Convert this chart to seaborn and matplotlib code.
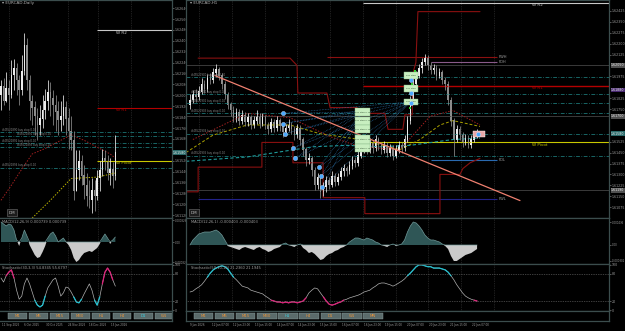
import numpy as np
import matplotlib
matplotlib.use("Agg")
import matplotlib.pyplot as plt
from matplotlib.patches import Rectangle
from matplotlib.ticker import FixedLocator, FormatStrFormatter
from matplotlib.transforms import blended_transform_factory
import seaborn as sns

sns.set_theme(style="dark", rc={
    "figure.facecolor": "black", "axes.facecolor": "black",
    "axes.edgecolor": "#3b4d4d", "text.color": "#a8a8a8",
    "xtick.color": "#9c9c9c", "ytick.color": "#9c9c9c", "axes.grid": False,
})
plt.rcParams["font.family"] = ["DejaVu Sans"]

# ======================= DATA =======================
# ---- left chart: EURCAD Daily ----
d_open0 = 1.6200
d_close = [1.6207, 1.6196, 1.6205, 1.6200, 1.6215, 1.6220, 1.6211, 1.6204, 1.6218, 1.6237,
           1.6211, 1.6196, 1.6191, 1.6185, 1.6178, 1.6183, 1.6189, 1.6196, 1.6202, 1.6198,
           1.6193, 1.6188, 1.6182, 1.6185, 1.6191, 1.6183, 1.6174, 1.6167, 1.6130, 1.6145,
           1.6152, 1.6141, 1.6134, 1.6126, 1.6123, 1.6130, 1.6126, 1.6139, 1.6145, 1.6154,
           1.6152, 1.6143, 1.6146, 1.6141, 1.6158]
d_high = [1.6211, 1.6213, 1.6217, 1.6211, 1.6226, 1.6227, 1.6224, 1.6215, 1.6230, 1.6246,
          1.6242, 1.6215, 1.6200, 1.6196, 1.6191, 1.6193, 1.6200, 1.6205, 1.6211, 1.6210,
          1.6204, 1.6200, 1.6196, 1.6196, 1.6200, 1.6196, 1.6191, 1.6185, 1.6174, 1.6160,
          1.6160, 1.6156, 1.6149, 1.6143, 1.6138, 1.6139, 1.6138, 1.6145, 1.6152, 1.6161,
          1.6160, 1.6156, 1.6154, 1.6151, 1.6171]
d_low = [1.6189, 1.6193, 1.6195, 1.6189, 1.6198, 1.6204, 1.6200, 1.6193, 1.6200, 1.6215,
         1.6204, 1.6182, 1.6178, 1.6171, 1.6167, 1.6171, 1.6176, 1.6183, 1.6189, 1.6185,
         1.6178, 1.6174, 1.6171, 1.6174, 1.6178, 1.6171, 1.6161, 1.6160, 1.6123, 1.6134,
         1.6138, 1.6134, 1.6124, 1.6119, 1.6117, 1.6114, 1.6115, 1.6123, 1.6130, 1.6141,
         1.6145, 1.6138, 1.6134, 1.6132, 1.6138]
d_macd = [0.00040, 0.00036, 0.00032, 0.00036, 0.00034, 0.00024, 0.00004, -0.00008, 0.00008, 0.00024,
          0.00012, -0.00006, -0.00016, -0.00026, -0.00032, -0.00030, -0.00020, -0.00008, 0.00008, 0.00016,
          0.00020, 0.00012, 0.0, 0.00004, 0.00008, 0.0, -0.00006, -0.00016, -0.00032, -0.00040,
          -0.00036, -0.00028, -0.00022, -0.00020, -0.00018, -0.00020, -0.00016, -0.00012, -0.00004, 0.00008,
          0.00016, 0.00008, -0.00004, 0.00004, 0.00010]
d_stoch = [71, 62, 76, 84, 89, 71, 44, 24, 31, 58,
           71, 58, 40, 22, 11, 7, 11, 31, 49, 58,
           67, 71, 53, 31, 38, 51, 49, 40, 29, 18,
           16, 24, 36, 47, 58, 44, 22, 11, 29, 58,
           84, 93, 84, 67, 53]
d_ma_red_idx = [0, 4, 7, 12, 17, 23, 27, 32, 37, 42, 44]
d_ma_red = [1.6123, 1.6134, 1.6143, 1.6157, 1.6161, 1.6167, 1.6171, 1.6167, 1.6162, 1.6157, 1.6154]
d_ma_yel_idx = [12, 19, 27, 37, 44]
d_ma_yel = [1.6110, 1.6123, 1.6139, 1.6140, 1.6143]
d_orders = [1.6173, 1.6170, 1.6165, 1.6162, 1.6147]
d_price_ticks = [1.6112, 1.6120, 1.6128, 1.6136, 1.6144, 1.6152, 1.6160, 1.6168, 1.6176, 1.6184,
                 1.6192, 1.6200, 1.6208, 1.6216, 1.6224, 1.6232, 1.6240, 1.6248, 1.6256, 1.6264]
d_grid = [3.1, 25.8, 37.3, 50.0]
d_xtick_pos = [0.4, 8.8, 17.2, 25.6, 34.0, 42.4]
d_xlabels = ["11 Sep 2025", "6 Oct 2025", "30 Oct 2025", "24 Nov 2025", "18 Dec 2025", "15 Jan 2026"]
d_wstart = 36.9

# weekly pivot levels (shared)
w_names = ["W R2", "W R1", "W Pivot"]
w_prices = [1.6248, 1.6191, 1.6152]
w_colors = ["#c8c8c8", "#b40000", "#c8c800"]

# ---- right chart: EURCAD H1 ----
h_open0 = 1.6178
h_close = [1.6181, 1.6185, 1.6183, 1.6187,
           1.6192, 1.6189, 1.6196, 1.6195, 1.6200, 1.6202,
           1.6198, 1.6192, 1.6185,
           1.6178, 1.6174, 1.6169, 1.6173, 1.6167,
           1.6171, 1.6166, 1.6169, 1.6164, 1.6167, 1.6170, 1.6165,
           1.6169, 1.6164, 1.6161, 1.6166, 1.6162, 1.6167, 1.6163, 1.6159, 1.6162,
           1.6164, 1.6161, 1.6157, 1.6162, 1.6154,
           1.6147, 1.6140, 1.6141, 1.6133, 1.6123, 1.6128, 1.6118,
           1.6121, 1.6126, 1.6123, 1.6129, 1.6125, 1.6128, 1.6132,
           1.6134, 1.6132, 1.6136, 1.6140, 1.6138, 1.6143, 1.6147,
           1.6150, 1.6147, 1.6152, 1.6148, 1.6154, 1.6150,
           1.6147, 1.6150, 1.6145, 1.6148, 1.6143, 1.6147, 1.6150,
           1.6148, 1.6154, 1.6167, 1.6181,
           1.6192, 1.6198, 1.6203, 1.6207, 1.6210, 1.6205,
           1.6202, 1.6203, 1.6198, 1.6200, 1.6195, 1.6192,
           1.6181, 1.6167, 1.6154, 1.6161,
           1.6157, 1.6152, 1.6155, 1.6150, 1.6154, 1.6157, 1.6158]
h_high = [1.6185, 1.6188, 1.6189, 1.6191,
          1.6196, 1.6195, 1.6199, 1.6200, 1.6203, 1.6206,
          1.6204, 1.6200, 1.6194,
          1.6187, 1.6180, 1.6177, 1.6176, 1.6175,
          1.6174, 1.6173, 1.6172, 1.6171, 1.6170, 1.6174, 1.6172,
          1.6172, 1.6171, 1.6166, 1.6169, 1.6168, 1.6170, 1.6169, 1.6165, 1.6165,
          1.6168, 1.6166, 1.6163, 1.6165, 1.6164,
          1.6156, 1.6149, 1.6145, 1.6143, 1.6135, 1.6131, 1.6130,
          1.6125, 1.6129, 1.6128, 1.6132, 1.6131, 1.6131, 1.6135,
          1.6137, 1.6136, 1.6139, 1.6143, 1.6142, 1.6146, 1.6150,
          1.6154, 1.6152, 1.6155, 1.6154, 1.6157, 1.6156,
          1.6152, 1.6153, 1.6152, 1.6151, 1.6150, 1.6150, 1.6153,
          1.6152, 1.6157, 1.6170, 1.6184,
          1.6195, 1.6201, 1.6206, 1.6210, 1.6213, 1.6212,
          1.6207, 1.6206, 1.6205, 1.6203, 1.6202, 1.6197,
          1.6194, 1.6183, 1.6169, 1.6164,
          1.6163, 1.6159, 1.6158, 1.6157, 1.6157, 1.6160, 1.6161]
h_low = [1.6175, 1.6179, 1.6180, 1.6181,
         1.6185, 1.6186, 1.6187, 1.6192, 1.6193, 1.6197,
         1.6195, 1.6189, 1.6182,
         1.6175, 1.6170, 1.6166, 1.6166, 1.6164,
         1.6165, 1.6163, 1.6163, 1.6161, 1.6162, 1.6165, 1.6162,
         1.6163, 1.6161, 1.6158, 1.6159, 1.6159, 1.6160, 1.6160, 1.6156, 1.6157,
         1.6160, 1.6158, 1.6154, 1.6155, 1.6150,
         1.6143, 1.6136, 1.6137, 1.6129, 1.6119, 1.6120, 1.6114,
         1.6115, 1.6118, 1.6120, 1.6121, 1.6122, 1.6123, 1.6126,
         1.6129, 1.6129, 1.6130, 1.6134, 1.6135, 1.6136, 1.6141,
         1.6145, 1.6144, 1.6145, 1.6145, 1.6146, 1.6147,
         1.6144, 1.6145, 1.6142, 1.6143, 1.6140, 1.6141, 1.6145,
         1.6145, 1.6146, 1.6152, 1.6165,
         1.6179, 1.6190, 1.6196, 1.6200, 1.6205, 1.6202,
         1.6199, 1.6199, 1.6195, 1.6196, 1.6192, 1.6188,
         1.6178, 1.6163, 1.6143, 1.6152,
         1.6154, 1.6149, 1.6150, 1.6148, 1.6148, 1.6152, 1.6155]
h_macd = [0, 0.00010, 0.00016, 0.00022, 0.00024, 0.00026, 0.00026, 0.00026, 0.00028, 0.00030,
          0.00026, 0.00020, 0.00010, -0.00002, -0.00004, -0.00006, -0.00008, -0.00010, -0.00006, -0.00004,
          -0.00006, -0.00008, -0.00010, -0.00006, -0.00004, -0.00008, -0.00010, -0.00014, -0.00012, -0.00008,
          -0.00006, -0.00004, 0.00002, 0.00004, 0.0, -0.00002, -0.00004, 0.0, 0.00002, -0.00006,
          -0.00010, -0.00016, -0.00014, -0.00018, -0.00024, -0.00030, -0.00028, -0.00022, -0.00018, -0.00016,
          -0.00012, -0.00010, -0.00006, -0.00004, 0.0, 0.00006, 0.00010, 0.00014, 0.00014, 0.00012,
          0.00010, 0.00014, 0.00012, 0.00010, 0.00006, 0.00004, 0.0, -0.00002, -0.00004, 0.0,
          0.00002, -0.00002, 0.0, 0.00002, 0.00010, 0.00026, 0.00038, 0.00046, 0.00044, 0.00038,
          0.00030, 0.00020, 0.00014, 0.00010, 0.00010, 0.00008, 0.00006, 0.00002, -0.00002, -0.00008,
          -0.00022, -0.00032, -0.00032, -0.00028, -0.00024, -0.00020, -0.00018, -0.00016, -0.00012, -0.00008]
h_stoch = [40, 42, 47, 51, 56, 64, 73, 82, 89, 93,
           96, 98, 96, 91, 82, 73, 67, 60, 53, 51,
           49, 44, 42, 40, 38, 36, 31, 27, 22, 20,
           18, 18, 16, 18, 16, 18, 18, 16, 18, 20,
           27, 38, 44, 49, 47, 38, 29, 20, 13, 11,
           13, 16, 18, 22, 24, 27, 29, 31, 33, 36,
           40, 42, 44, 49, 53, 58, 60, 60, 58, 56,
           53, 56, 60, 64, 69, 76, 82, 89, 96, 100,
           100, 98, 96, 96, 93, 93, 93, 91, 89, 84,
           76, 67, 56, 47, 38, 31, 27, 24, 22, 20]
h_upper_idx = [2.8, 34.5, 36.9, 37.2, 47.2, 48.3, 57.6, 58.6, 67.2, 68.3, 73.4, 74.1, 76.6, 77.2, 77.9, 78.6, 100]
h_upper = [1.6210, 1.6210, 1.6205, 1.6186, 1.6186, 1.6176, 1.6176, 1.6172, 1.6172, 1.6161, 1.6161,
           1.6171, 1.6171, 1.6202, 1.6207, 1.6242, 1.6242]
h_lower_idx = [-1.4, 2.8, 2.8, 24.8, 24.8, 35.5, 35.5, 45.9, 45.9, 60.3, 60.3, 86.2, 86.2, 93.1, 94.1, 96.6, 100]
h_lower = [1.6118, 1.6118, 1.6135, 1.6135, 1.6152, 1.6152, 1.6138, 1.6138, 1.6114, 1.6114, 1.6103,
           1.6103, 1.6130, 1.6130, 1.6134, 1.6138, 1.6141]
h_ma_yel_idx = [-1.4, 7.9, 19.7, 34.5, 44.8, 58.6, 72.4, 79.3, 86.2, 90.7, 100]
h_ma_yel = [1.6145, 1.6157, 1.6164, 1.6164, 1.6158, 1.6154, 1.6147, 1.6154, 1.6164, 1.6167, 1.6163]
h_ma_red_idx = [1, 19.7, 34.5, 48.3, 58.6, 72.4, 82.8, 90.7, 100]
h_ma_red = [1.6154, 1.6172, 1.6169, 1.6156, 1.6149, 1.6147, 1.6170, 1.6174, 1.6164]
h_ma_teal_idx = [-1.4, 19.7, 42.4, 54.1, 65.5, 75.9, 90.7, 100]
h_ma_teal = [1.6139, 1.6142, 1.6149, 1.6150, 1.6149, 1.6150, 1.6154, 1.6155]
h_trend_idx = [8.6, 113.8]
h_trend = [1.6198, 1.6112]
h_orders = [1.6197, 1.6185, 1.6179, 1.6172, 1.6158, 1.6143]
h_gray_lines = [1.6205, 1.6170, 1.6119]
lvl_names = ["PWH", "PDH", "PDL", "PWL"]
lvl_prices = [1.6211, 1.6207, 1.6140, 1.6113]
lvl_start = [47.2, 83.1, 83.1, 2.8]
lvl_end = 105.9
h_wstart = 59.7
h_circ_idx = [32.1, 32.1, 32.8, 35.5, 36.2, 44.5, 45.2, 45.5, 76.2, 76.2, 76.2, 99.3]
h_circ = [1.6172, 1.6165, 1.6158, 1.6148, 1.6141, 1.6135, 1.6129, 1.6121, 1.6195, 1.6186, 1.6179, 1.6158]
h_sq_idx = [77.6, 76.6, 75.9]
h_sq = [1.6201, 1.6192, 1.6176]
stack1_idx, stack1 = 59.5, [1.6173, 1.6167, 1.6161, 1.6154, 1.6148]
stack2_idx, stack2 = 76.2, [1.6198, 1.6189, 1.6180]
h_axis_boxes = [1.6205, 1.6188, 1.6170, 1.6119]
h_axis_box_cols = ["#505050", "#4a2a72", "#505050", "#505050"]
h_price_ticks = [1.61075, 1.61150, 1.61225, 1.61300, 1.61375, 1.61450, 1.61525, 1.61600, 1.61675,
                 1.61750, 1.61825, 1.61900, 1.61975, 1.62050, 1.62125, 1.62200, 1.62275, 1.62350,
                 1.62425]
h_grid = [3.1, 14.4, 25.7, 37.0, 48.3, 59.6, 70.9, 82.2, 93.5, 104.8]
h_xtick_pos = [0, 7.48, 14.96, 22.44, 29.92, 37.4, 44.88, 52.36, 59.84, 67.32, 74.8, 82.28, 89.76, 97.24]
h_xlabels = ["9 Jan 2026", "12 Jan 07:00", "12 Jan 23:00", "13 Jan 15:00", "14 Jan 07:00",
             "14 Jan 23:00", "15 Jan 15:00", "16 Jan 07:00", "16 Jan 23:00", "19 Jan 15:00",
             "20 Jan 07:00", "20 Jan 23:00", "21 Jan 15:00", "22 Jan 07:00"]
tf_left = ["M1", "M5", "M15", "M30", "H1", "H4", "D1", "W1"]
tf_right = ["M1", "M5", "M15", "M30", "H1", "H4", "D1", "W1", "MN"]

# ======================= DRAWING =======================
W, H = 625, 331
fig = plt.figure(figsize=(W / 100, H / 100), dpi=100, facecolor="black")
SEP = "#3b4d4d"
TICK = "#9c9c9c"
FS = 3.0      # panel titles / labels
AFS = 2.3     # axis numbers
MFS = 1.9     # macd axis numbers
XFS = 1.95    # time labels
ROWS = [(0, 218), (218, 264), (264, 311), (311, 321)]


def px_axes(x0, y0, x1, y1, xlim):
    ax = fig.add_axes([x0 / W, 1 - y1 / H, (x1 - x0) / W, (y1 - y0) / H])
    ax.set_facecolor("black")
    for s in ax.spines.values():
        s.set_color(SEP)
        s.set_linewidth(0.9)
    ax.tick_params(axis="both", length=1.2, width=0.4, labelsize=AFS, colors=TICK, pad=0.8)
    ax.yaxis.tick_right()
    ax.tick_params(axis="x", bottom=False, labelbottom=False)
    ax.set_xlim(*xlim)
    return ax


def price_ticks(ax, ticks, boxes):
    keep = [t for t in ticks if all(abs(t - b) > 0.00032 for b in boxes)]
    ax.yaxis.set_major_locator(FixedLocator(keep))
    ax.yaxis.set_major_formatter(FormatStrFormatter("%.5f"))


def draw_candles(ax, open0, highs, lows, closes, width):
    c = np.asarray(closes)
    o = np.r_[open0, c[:-1]]
    h = np.maximum(np.asarray(highs), np.maximum(o, c))
    l = np.minimum(np.asarray(lows), np.minimum(o, c))
    x = np.arange(len(c))
    col = np.where(c >= o, "#ececec", "#8c8c8c")
    ax.vlines(x, l, h, colors=col, lw=0.55)
    ax.bar(x, np.abs(c - o) + 0.00002, bottom=np.minimum(o, c), width=width, color=col, lw=0)


def draw_macd(ax, vals, ylim, ticks, labels, title):
    v = np.asarray(vals, float)
    x = np.arange(len(v))
    ax.fill_between(x, v, 0, where=v >= 0, interpolate=True, color="#2f5656", lw=0)
    ax.fill_between(x, v, 0, where=v <= 0, interpolate=True, color="#cacaca", lw=0)
    sns.lineplot(x=x, y=np.where(v >= 0, v, 0), ax=ax, color="#6f9898", lw=0.5, estimator=None)
    ax.set_ylim(*ylim)
    ax.set_yticks(ticks)
    ax.set_yticklabels(labels)
    ax.tick_params(axis="y", labelsize=MFS, pad=0.6)
    ax.text(0.012, 0.96, title, transform=ax.transAxes, fontsize=2.6, color="#a0a0a0", va="top")


def draw_stoch(ax, vals, hi_col, lo_col, title):
    v = np.asarray(vals, float)
    x = np.arange(len(v))
    sns.lineplot(x=x, y=v, ax=ax, color="#b0b0b0", lw=0.5, estimator=None)
    for mask, col in ((v >= 80, hi_col), (v <= 20, lo_col)):
        m = mask | np.r_[mask[1:], False] | np.r_[False, mask[:-1]]
        ax.plot(x, np.where(m, v, np.nan), color=col, lw=0.9)
    for lv in (80, 20):
        ax.axhline(lv, color="#7a7a7a", ls=(0, (1, 1.5)), lw=0.5)
    ax.set_ylim(-2, 102)
    ax.set_yticks([0, 20, 80, 100])
    ax.text(0.012, 0.96, title, transform=ax.transAxes, fontsize=2.6, color="#a0a0a0", va="top")


def draw_buttons(ax, labels, active, starts_px, width_px, ax_x0, ax_w, ticks, ticklabels):
    ax.set_ylim(0, 1)
    ax.set_yticks([])
    for lab, sx in zip(labels, starts_px):
        fx = (sx - ax_x0) / ax_w
        fw = width_px / ax_w
        ax.add_patch(Rectangle((fx, 0.18), fw, 0.64, transform=ax.transAxes,
                               fc="#5b6b6b", ec="#8fa0a0", lw=0.3))
        ax.text(fx + fw / 2, 0.5, lab, transform=ax.transAxes, ha="center", va="center",
                fontsize=2.8, color="#3cd0e0" if lab == active else "#e8953c")
    ax.tick_params(axis="x", bottom=False, labelbottom=True, length=0, pad=1.5, labelsize=XFS)
    ax.set_xticks(ticks)
    ax.set_xticklabels(ticklabels, ha="left")


def vgrid(axes, positions):
    for ax in axes:
        for p in positions:
            ax.axvline(p, color="#3c3c3c", ls=(0, (1, 1.5)), lw=0.5, zorder=0)


def axis_box(ax, price, text, fc):
    tr = blended_transform_factory(ax.transAxes, ax.transData)
    ax.text(1.005, price, text, transform=tr, fontsize=AFS, color="#f0f0f0", va="center", ha="left",
            bbox=dict(boxstyle="square,pad=0.1", fc=fc, ec="none"), clip_on=False, zorder=10)


# ---------------- LEFT CHART ----------------
LX = (0, 172)
lxlim = (-0.38, 65.8)
la = [px_axes(LX[0], y0, LX[1], y1, lxlim) for (y0, y1) in ROWS]
lm, lmacd, lst, lbtn = la
for ax in la:
    ax.spines["left"].set_visible(False)
vgrid(la[:3], d_grid)

for k, p in enumerate(d_orders):
    lm.axhline(p, color="#1f7f7f", ls=(0, (5, 2, 1, 2)), lw=0.55)
    lm.text(0.3 + 6 * (k % 2), p + 0.00002, "#4552189%d buy stop 0.10" % k, fontsize=1.9,
            color="#8a8a8a", va="bottom")
for name, price, col in zip(w_names, w_prices, w_colors):
    lm.hlines(price, d_wstart, lxlim[1], color=col, lw=0.8)
    lm.text(44.3, price - 0.00004, name, fontsize=FS, color=col, va="top")
sns.lineplot(x=d_ma_red_idx, y=d_ma_red, ax=lm, color="#a02020", lw=0.7, linestyle=(0, (1.5, 1.5)),
             estimator=None)
sns.lineplot(x=d_ma_yel_idx, y=d_ma_yel, ax=lm, color="#b8b000", lw=0.7, linestyle=(0, (1.5, 1.5)),
             estimator=None)
draw_candles(lm, d_open0, d_high, d_low, d_close, 0.6)
lm.set_ylim(1.6110, 1.6270)
price_ticks(lm, d_price_ticks, [d_close[-1]])
lm.set_xlim(*lxlim)
lm.text(0.012, 0.995, "\u25be EURCAD,Daily", transform=lm.transAxes, fontsize=FS, color="#b0b0b0", va="top")
lm.text(0.05, 0.015, "DM", transform=lm.transAxes, fontsize=FS, color="#c0c0c0", va="bottom",
        bbox=dict(boxstyle="square,pad=0.4", fc="#1c1c1c", ec="#707070", lw=0.4))
axis_box(lm, d_close[-1], "%.5f" % d_close[-1], "#2a6a6a")

draw_macd(lmacd, d_macd, (-0.00044, 0.00048), [0.00044, 0, -0.00040],
          ["0.000829", "0.00", "-0.000829"], "MACD(12,26,9) 0.000739 0.000739")
lmacd.set_xlim(*lxlim)
draw_stoch(lst, d_stoch, "#e0207a", "#20c0d0", "Stochastic(30,3,3) 54.8345 55.6797")
lst.set_xlim(*lxlim)
draw_buttons(lbtn, tf_left, "D1", [8, 29, 50, 71, 92, 113, 134, 155], 18.5, LX[0], LX[1] - LX[0],
             d_xtick_pos, d_xlabels)
lbtn.set_xlim(*lxlim)

# ---------------- RIGHT CHART ----------------
RX = (186, 609)
rxlim = (-1.38, 144.5)
ra = [px_axes(RX[0], y0, RX[1], y1, rxlim) for (y0, y1) in ROWS]
rm, rmacd, rst, rbtn = ra
vgrid(ra[:3], h_grid)

for p in h_gray_lines:
    rm.axhline(p, color="#444444", lw=0.6)
for k, p in enumerate(h_orders):
    rm.axhline(p, color="#1f7f7f", ls=(0, (5, 2, 1, 2)), lw=0.55)
    rm.text(0.3, p + 0.00002, "#4552190%d buy stop 0.10" % k, fontsize=1.9, color="#8a8a8a", va="bottom")
for name, price, col in zip(w_names, w_prices, w_colors):
    rm.hlines(price, h_wstart, rxlim[1], color=col, lw=1.0 if name == "W R1" else 0.8)
    rm.text(118, price - 0.00004, name, fontsize=FS, color=col, va="top")
lvl_cols = ["#8b1010", "#8a5a8a", "#2a6ab0", "#22228a"]
for name, price, st, col in zip(lvl_names, lvl_prices, lvl_start, lvl_cols):
    rm.hlines(price, st, lvl_end, color=col, lw=0.8)
    rm.text(lvl_end + 0.6, price, name, fontsize=2.6, color="#a0a0a0", va="center")

sns.lineplot(x=h_upper_idx, y=h_upper, ax=rm, color="#8a1010", lw=0.8, estimator=None, sort=False)
sns.lineplot(x=h_lower_idx, y=h_lower, ax=rm, color="#8a1010", lw=0.8, estimator=None, sort=False)
sns.lineplot(x=h_ma_yel_idx, y=h_ma_yel, ax=rm, color="#a8a000", lw=0.7, linestyle=(0, (3, 2)),
             estimator=None)
sns.lineplot(x=h_ma_teal_idx, y=h_ma_teal, ax=rm, color="#1f9a9a", lw=0.8, linestyle=(0, (3, 2)),
             estimator=None)
sns.lineplot(x=h_ma_red_idx, y=h_ma_red, ax=rm, color="#a02020", lw=0.7, linestyle=(0, (1.5, 1.5)),
             estimator=None)

# fan lines from the signal circles toward the order stacks
for cx, cy in zip(h_circ_idx[:8], h_circ[:8]):
    rm.plot([cx, stack2_idx], [cy, stack2[-1]], color="#2f7fbf", ls=(0, (1, 1.5)), lw=0.45)
    rm.plot([cx, stack1_idx], [cy, stack1[0]], color="#2f7fbf", ls=(0, (1, 1.5)), lw=0.45)

draw_candles(rm, h_open0, h_high, h_low, h_close, 0.55)
sns.lineplot(x=h_trend_idx, y=h_trend, ax=rm, color="#f08070", lw=0.9, estimator=None)

for p in stack1:
    rm.add_patch(Rectangle((stack1_idx - 2.6, p - 0.00028), 5.2, 0.00056, fc="#c8efc0", ec="#88b888", lw=0.3,
                           zorder=5))
    rm.text(stack1_idx, p, "buy stop 0.10", fontsize=1.6, color="#305030", ha="center", va="center", zorder=6)
for p in stack2:
    rm.add_patch(Rectangle((stack2_idx - 2.4, p - 0.00022), 4.8, 0.00044, fc="#c8efc0", ec="#88b888", lw=0.3,
                           zorder=5))
    rm.text(stack2_idx, p, "buy stop", fontsize=1.6, color="#305030", ha="center", va="center", zorder=6)
rm.add_patch(Rectangle((97.6, 1.6156), 4.1, 0.0004, fc="#e8a8a8", ec="#ffffff", lw=0.3, zorder=5))
rm.scatter(h_sq_idx, h_sq, s=4, marker="s", color="#30d030", zorder=7, lw=0)
rm.scatter(h_circ_idx, h_circ, s=9, color="#4aa8ff", edgecolor="#d0e8ff", lw=0.3, zorder=8)

rm.set_ylim(1.6100, 1.6250)
price_ticks(rm, h_price_ticks, h_axis_boxes + [h_close[-1]])
rm.set_xlim(*rxlim)
rm.text(0.01, 0.995, "\u25be EURCAD,H1", transform=rm.transAxes, fontsize=FS, color="#b0b0b0", va="top")
rm.text(0.012, 0.015, "DM", transform=rm.transAxes, fontsize=FS, color="#c0c0c0", va="bottom",
        bbox=dict(boxstyle="square,pad=0.4", fc="#1c1c1c", ec="#707070", lw=0.4))
for p, fc in zip(h_axis_boxes, h_axis_box_cols):
    axis_box(rm, p, "%.5f" % p, fc)
axis_box(rm, h_close[-1], "%.5f" % h_close[-1], "#2a6a6a")

draw_macd(rmacd, h_macd, (-0.00038, 0.00054), [0.00046, 0, -0.00032],
          ["0.000436", "0.00", "-0.000302"], "MACD(12,26,1) -0.000403 -0.000403")
rmacd.set_xlim(*rxlim)
draw_stoch(rst, h_stoch, "#20c0d0", "#e0207a", "Stochastic(50,10,10) 21.2360 21.1945")
rst.set_xlim(*rxlim)
draw_buttons(rbtn, tf_right, "H1", [194, 215, 236, 257, 278, 299, 321, 342, 363], 19.5, RX[0], RX[1] - RX[0],
             h_xtick_pos, h_xlabels)
rbtn.set_xlim(*rxlim)

for ax in la + ra:
    ax.set_xlabel("")
    ax.set_ylabel("")

fig.savefig("out.png", dpi=100, facecolor="black")
